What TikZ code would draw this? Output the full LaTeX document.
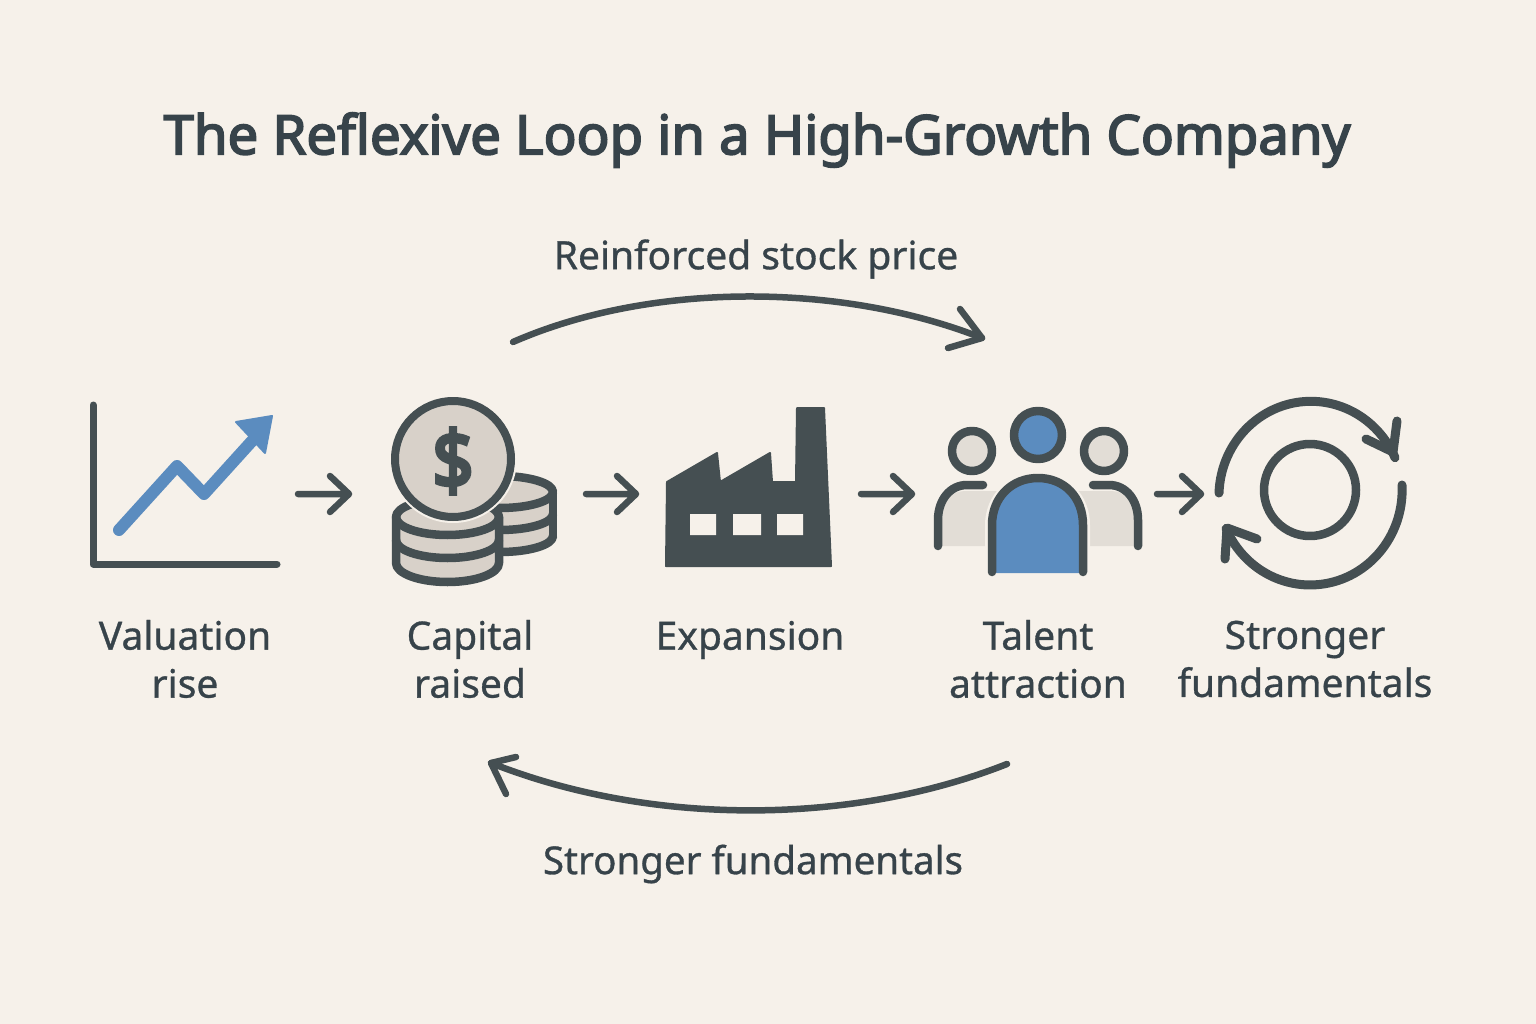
\documentclass[tikz,border=0pt]{standalone}
\usepackage{fontspec}
\setmainfont{Noto Sans}
\newfontfamily\titlefont[FakeBold=3.2]{Noto Sans}
\newfontfamily\lblfont[FakeBold=0.8]{Noto Sans}
\newfontfamily\dollarfont[FakeBold=5]{Noto Sans}
\definecolor{bgc}{HTML}{F6F1EA}
\definecolor{ink}{HTML}{454F52}
\definecolor{txt}{HTML}{37434A}
\definecolor{blu}{HTML}{5B8CBF}
\definecolor{beige}{HTML}{D8D1C9}
\definecolor{lite}{HTML}{E2DDD6}
\tikzset{
  lbl/.style={text=txt,font=\fontsize{39}{48}\selectfont\lblfont,align=center,inner sep=0pt},
  iconline/.style={draw=ink,line width=7,line cap=round,line join=round},
  thick8/.style={draw=ink,line width=8.5,line cap=round,line join=round},
  flowarrow/.style={draw=ink,line width=6.5,line cap=round,line join=round},
  looparrow/.style={draw=ink,line width=6.5,line cap=round,line join=round},
}
\begin{document}
\begin{tikzpicture}[x=1pt,y=-1pt]
\path[use as bounding box,fill=bgc] (0,0) rectangle (1536,1024);
\node[text=txt,font=\fontsize{54.5}{60}\selectfont\titlefont,inner sep=0pt] (title) at (757,140) {The Reflexive Loop in a High-Growth Company};
\node[lbl] (top) at (756,259) {Reinforced stock price};
\node[lbl,font=\fontsize{38.5}{48}\selectfont\lblfont] (bot) at (753,864) {Stronger fundamentals};
\node[lbl] (l1) at (185,659) {Valuation\\rise};
\node[lbl] (l2) at (470,659) {Capital\\raised};
\node[lbl] (l3) at (750,640) {Expansion};
\node[lbl] (l4) at (1038,659) {Talent\\attraction};
\node[lbl] (l5) at (1305,659) {Stronger\\fundamentals};
% chart
\draw[iconline] (93,405) -- (93,564) -- (277,564);
\draw[blu,line width=12,line cap=round,line join=round] (119,530) -- (177,466) -- (204,494) -- (252,441);
\fill[blu,draw=blu,line width=2,line join=round] (272,416) -- (236,422) -- (265,453) -- cycle;
% right coin stack
\fill[beige] (447,492) arc[start angle=180,end angle=360,x radius=53,y radius=16] -- (553,536) arc[start angle=0,end angle=180,x radius=53,y radius=16] -- cycle;
\draw[thick8] (553,492) arc[start angle=0,end angle=-90,x radius=53,y radius=16] -- (447,476);
\draw[thick8] (553,492) -- (553,536);
\draw[thick8] (553,492) arc[start angle=0,end angle=180,x radius=53,y radius=16];
\draw[thick8] (553,514) arc[start angle=0,end angle=180,x radius=53,y radius=16];
\draw[thick8] (553,536) arc[start angle=0,end angle=180,x radius=53,y radius=16];
% left coin stack
\fill[beige] (396,517) arc[start angle=180,end angle=360,x radius=51.5,y radius=18] -- (499,563) arc[start angle=0,end angle=180,x radius=51.5,y radius=19] -- cycle;
\draw[thick8] (396,517) arc[start angle=180,end angle=360,x radius=51.5,y radius=18];
\draw[thick8] (396,517) arc[start angle=180,end angle=0,x radius=51.5,y radius=18];
\draw[thick8] (396,540) arc[start angle=180,end angle=0,x radius=51.5,y radius=18];
\draw[thick8] (396,517) -- (396,563) arc[start angle=180,end angle=0,x radius=51.5,y radius=19] -- (499,517);
% top coin
\fill[bgc] (453,459) circle (64);
\draw[draw=ink,line width=8,fill=beige] (453,459) circle (58);
\node[text=ink,font=\fontsize{72}{72}\selectfont\dollarfont,inner sep=0pt] (dollar) at (453,461) {\scalebox{1}[1.12]{\$}};
% factory
\fill[ink,draw=ink,line width=2,line join=round] (666,566) -- (667,482) -- (717,453) -- (720,482) -- (770,453) -- (772,482) -- (796,482) -- (797,408) -- (824,408) -- (831,566) -- cycle;
\fill[bgc] (690,514) rectangle (716,535) (733,514) rectangle (761,535) (777,514) rectangle (803,535);
% people
\draw[thick8,fill=lite] (972,451) circle (20);
\draw[thick8,fill=lite] (1104,451) circle (20);
\fill[lite] (940,546) -- (940,518) .. controls (942,500) and (950,491) .. (967,491) -- (1109,491) .. controls (1126,491) and (1136,500) .. (1136,518) -- (1136,546) -- cycle;
\draw[thick8] (983,485) -- (967,485) .. controls (950,485) and (938,500) .. (938,520) -- (938,546);
\draw[thick8] (1093,485) -- (1109,485) .. controls (1126,485) and (1138,500) .. (1138,520) -- (1138,546);
\fill[bgc] (985,573) -- (985,525) .. controls (985,495) and (1008,472) .. (1038,472) .. controls (1068,472) and (1090,495) .. (1090,525) -- (1090,573) -- cycle;
\fill[blu] (992,573) -- (992,525) .. controls (992,497) and (1012,478) .. (1038,478) .. controls (1064,478) and (1083,497) .. (1083,525) -- (1083,573) -- cycle;
\draw[thick8] (992,572) -- (992,525) .. controls (992,497) and (1012,478) .. (1038,478) .. controls (1064,478) and (1083,497) .. (1083,525) -- (1083,572);
\draw[thick8,fill=blu] (1038,435) circle (24);
% cycle icon
\draw[thick8] (1310,490) circle (46);
\draw[thick8,line width=9] (1219,493) arc[start angle=182,end angle=336,x radius=92,y radius=95];
\draw[thick8,line width=9] (1397,421) -- (1393,452) -- (1366,439);
\draw[thick8,line width=9] (1402,485) arc[start angle=-3,end angle=156,x radius=92,y radius=95];
\draw[thick8,line width=9] (1225,559) -- (1227,528) -- (1257,539);
% flow arrows
\coordinate (a1s) at (298,494); \coordinate (a1e) at (349,494);
\coordinate (a2s) at (586,494); \coordinate (a2e) at (636,494);
\coordinate (a3s) at (861,494); \coordinate (a3e) at (912,494);
\coordinate (a4s) at (1157,494); \coordinate (a4e) at (1201,494);
\draw[flowarrow] (a1s) -- (a1e) (330,476) -- (a1e) -- (330,512);
\draw[flowarrow] (a2s) -- (a2e) (617,476) -- (a2e) -- (617,512);
\draw[flowarrow] (a3s) -- (a3e) (893,476) -- (a3e) -- (893,512);
\draw[flowarrow] (a4s) -- (a4e) (1182,476) -- (a4e) -- (1182,512);
% loop arrows
\coordinate (t1) at (513,342); \coordinate (t2) at (982,338);
\coordinate (b1) at (1007,764); \coordinate (b2) at (491,763);
\draw[looparrow] (t1) .. controls (650,282) and (840,282) .. (t2);
\draw[looparrow] (960,309) -- (t2) -- (948,348);
\draw[looparrow] (b1) .. controls (850,826) and (650,826) .. (b2);
\draw[looparrow] (516,757) -- (b2) -- (506,794);
\end{tikzpicture}
\end{document}
